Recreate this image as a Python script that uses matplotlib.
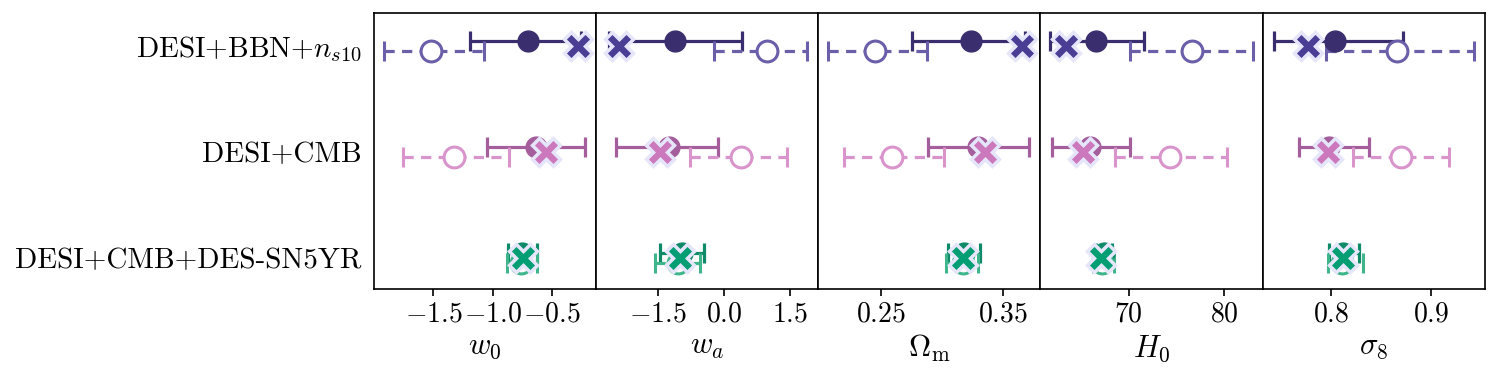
"""
Constraints on w0, wa, Omega_m, H0, sigma8 for three dataset combinations
"""
import numpy as np
import matplotlib.pyplot as plt

plt.rcParams['font.family'] = 'serif'
plt.rcParams['font.serif'] = ['cmr10']
plt.rcParams['mathtext.fontset'] = 'cm'
plt.rcParams['axes.formatter.use_mathtext'] = True
plt.rcParams['axes.unicode_minus'] = True

# ----------------------------------------------------------------------------
# Data
# ----------------------------------------------------------------------------

params = [r'$w_0$', r'$w_a$', r'$\Omega_{\rm m}$', r'$H_0$', r'$\sigma_8$']
datasets = [r'DESI+BBN+$n_{s10}$', 'DESI+CMB', 'DESI+CMB+DES-SN5YR']

# DESI+BBN+ns10
bbn_mid = [-0.70, -1.10, 0.3236, 66.64, 0.8043]
bbn_lo = [-1.19, -2.60, 0.2752, 61.8, 0.7434]
bbn_hi = [-0.26, 0.42, 0.368, 71.64, 0.8725]
bbn_dash_mid = [-1.52, 0.97, 0.2451, 76.6, 0.8665]
bbn_dash_lo = [-1.92, -0.23, 0.2067, 70.17, 0.795]
bbn_dash_hi = [-1.07, 1.89, 0.2875, 82.96, 0.9436]
bbn_best = [-0.28, -2.38, 0.3661, 63.51, 0.7772]

# DESI+CMB
cmb_mid = [-0.635, -1.25, 0.330, 66.0, 0.7986]
cmb_lo = [-1.051, -2.44, 0.2889, 62.0, 0.768]
cmb_hi = [-0.222, -0.14, 0.3716, 70.1, 0.8383]
cmb_dash_mid = [-1.323, 0.39, 0.2593, 74.34, 0.8698]
cmb_dash_lo = [-1.753, -0.76, 0.2196, 68.6, 0.8228]
cmb_dash_hi = [-0.866, 1.44, 0.302, 80.3, 0.9178]
cmb_best = [-0.55, -1.45, 0.3355, 65.25, 0.797]

# DESI+CMB+DES-SN5YR
sn_mid = [-0.75, -0.95, 0.318, 67.4, 0.812]
sn_lo = [-0.87, -1.45, 0.305, 66.6, 0.798]
sn_hi = [-0.63, -0.45, 0.331, 68.3, 0.828]
sn_dash_mid = [-0.76, -1.05, 0.317, 67.2, 0.811]
sn_dash_lo = [-0.88, -1.56, 0.303, 66.3, 0.797]
sn_dash_hi = [-0.63, -0.54, 0.330, 68.5, 0.832]
sn_best = [-0.748, -0.99, 0.3176, 67.15, 0.812]

xlims = [(-2.0, -0.13), (-2.9, 2.14), (0.1985, 0.381), (60.8, 84.0), (0.732, 0.954)]
xticks = [[-1.5, -1.0, -0.5], [-1.5, 0.0, 1.5], [0.25, 0.35], [70, 80], [0.8, 0.9]]

rows = [
    (2, bbn_mid, bbn_lo, bbn_hi, bbn_dash_mid, bbn_dash_lo, bbn_dash_hi, bbn_best,
     '#3b2e6e', '#6a5fa8', '#4a3d94'),
    (1, cmb_mid, cmb_lo, cmb_hi, cmb_dash_mid, cmb_dash_lo, cmb_dash_hi, cmb_best,
     '#a45e9c', '#d994cc', '#cc78bc'),
    (0, sn_mid, sn_lo, sn_hi, sn_dash_mid, sn_dash_lo, sn_dash_hi, sn_best,
     '#0f8a68', '#3fb58c', '#029e73'),
]

off = 0.05

# ----------------------------------------------------------------------------
# Plot
# ----------------------------------------------------------------------------

fig, axes = plt.subplots(1, 5, figsize=(14.99, 3.79), dpi=100, sharey=True)
fig.subplots_adjust(left=0.2495, right=0.9905, top=0.9657, bottom=0.2362, wspace=0)

for i, ax in enumerate(axes):
    for (y, mid, lo, hi, dmid, dlo, dhi, best, c_solid, c_dash, c_best) in rows:
        # solid: filled circle
        ax.errorbar(mid[i], y + off, xerr=[[mid[i] - lo[i]], [hi[i] - mid[i]]],
                    fmt='o', color=c_solid, ms=15, mec=c_solid, lw=2.3,
                    capsize=7, capthick=2.3, zorder=2)
        # dashed: open circle
        eb = ax.errorbar(dmid[i], y - off, xerr=[[dmid[i] - dlo[i]], [dhi[i] - dmid[i]]],
                         fmt='o', color=c_dash, ms=15, mfc='white', mec=c_dash, mew=2.2,
                         lw=2.3, capsize=7, capthick=2.3, zorder=2)
        eb[-1][0].set_linestyle((0, (3.2, 2.3)))
        # best fit
        ax.plot(best[i], y, marker='X', ms=20, color=c_best, mec='lavender', mew=2.5,
                ls='none', zorder=3)

    ax.set_xlim(*xlims[i])
    ax.set_xticks(xticks[i])
    ax.set_xlabel(params[i], fontsize=22)
    ax.tick_params(axis='x', labelsize=20, length=5, width=1.2)
    ax.tick_params(axis='y', length=0, labelsize=21, pad=9)
    for sp in ax.spines.values():
        sp.set_linewidth(1.2)

axes[0].set_ylim(-0.297, 2.311)
axes[0].set_yticks([2, 1, 0])
axes[0].set_yticklabels(datasets)

plt.savefig('out.png', dpi=100)
